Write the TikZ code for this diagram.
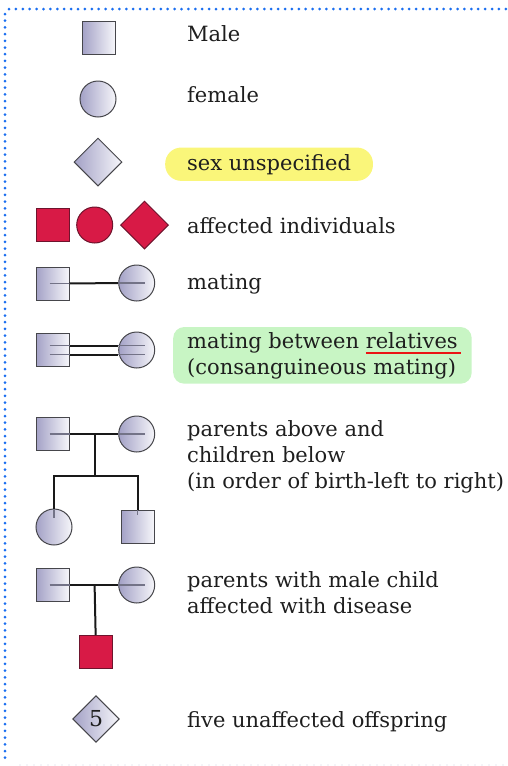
\documentclass[tikz,border=0pt]{standalone}
\usepackage{fontspec}
\setmainfont{DejaVu Serif}
\usepackage{xcolor}
\usetikzlibrary{shapes.geometric, positioning, calc}

\definecolor{lav}{RGB}{163,161,198}
\definecolor{lavlight}{RGB}{246,246,250}
\definecolor{affred}{RGB}{216,26,70}
\definecolor{affedge}{RGB}{110,20,45}
\definecolor{edgegray}{RGB}{70,70,75}
\definecolor{innergray}{RGB}{115,115,135}
\definecolor{dotblue}{RGB}{26,110,240}
\definecolor{hlyellow}{RGB}{250,246,122}
\definecolor{hlgreen}{RGB}{200,245,196}
\definecolor{ulred}{RGB}{235,20,20}
\definecolor{ink}{RGB}{30,30,30}

% red rule under a word
\newcommand\relul[1]{\setbox0\hbox{#1}\rlap{\color{ulred}\rule[-6pt]{\dimexpr\wd0+3pt\relax}{1.8pt}}#1}

\begin{document}
\begin{tikzpicture}[x=1pt, y=-1pt,
  male/.style={rectangle, draw=edgegray, line width=1pt, left color=lav, right color=lavlight, minimum size=33pt, inner sep=0pt},
  female/.style={circle, draw=edgegray, line width=1pt, left color=lav, right color=lavlight, minimum size=36pt, inner sep=0pt},
  unsp/.style={diamond, draw=edgegray, line width=1pt, left color=lav, right color=lavlight, minimum width=48pt, minimum height=48pt, inner sep=0pt},
  affm/.style={rectangle, draw=affedge, line width=1pt, fill=affred, minimum size=33pt, inner sep=0pt},
  afff/.style={circle, draw=affedge, line width=1pt, fill=affred, minimum size=36pt, inner sep=0pt},
  affu/.style={diamond, draw=affedge, line width=1pt, fill=affred, minimum width=48pt, minimum height=48pt, inner sep=0pt},
  link/.style={draw=black!90, line width=2pt},
  inner/.style={draw=innergray, line width=1.3pt},
  txt/.style={anchor=base west, inner sep=0pt, text=ink, align=left, font=\fontsize{21}{26}\selectfont}
]
  \useasboundingbox (0,0) rectangle (508,766);

  % dotted frame
  \draw[dotblue, line width=3pt, line cap=round, dash pattern=on 0pt off 6.9pt] (9,9) -- (508,9);
  \draw[dotblue, line width=3pt, line cap=round, dash pattern=on 0pt off 6.7pt] (5,14) -- (5,763);
  \draw[lav!50, line width=1.2pt, line cap=round, dash pattern=on 0pt off 7pt] (20,765) -- (508,765);

  % single symbols
  \node[male]   (male)  at (98.5,37.5) {};
  \node[female] (fem)   at (98,99)     {};
  \node[unsp]   (unsp)  at (98,162)    {};

  \node[affm] (affM) at (52.5,225) {};
  \node[afff] (affF) at (94.7,225) {};
  \node[affu] (affU) at (144.5,225) {};

  % mating
  \node[male]   (matM) at (52.5,283.5) {};
  \node[female] (matF) at (136.7,283)  {};
  \draw[inner] ([xshift=-3pt]matM.center) -- (matM.east);
  \draw[inner] (matF.west) -- ([xshift=8pt]matF.center);
  \draw[link] (matM) -- (matF);

  % consanguineous mating
  \node[male]   (conM) at (52.5,350) {};
  \node[female] (conF) at (136.7,350) {};
  \foreach \dy in {-4.5,4.5} {
    \draw[inner] ([xshift=-3pt,yshift=\dy pt]conM.center) -- ([yshift=\dy pt]conM.east);
    \draw[inner] ([yshift=\dy pt]conF.west) -- ([xshift=8pt,yshift=\dy pt]conF.center);
    \draw[link] ([yshift=\dy pt]conM.east) -- ([yshift=\dy pt]conM.east -| conF.west);
  }

  % parents and children
  \node[male]   (parM) at (52.5,434)   {};
  \node[female] (parF) at (136.7,434)  {};
  \node[female] (kidF) at (54,527)     {};
  \node[male]   (kidM) at (137.5,526.5) {};
  \coordinate (parJ) at ($(parM)!0.5!(parF)$);
  \coordinate (kidJ) at ($(parJ)+(0,42)$);
  \draw[inner] ([xshift=-3pt]parM.center) -- (parM.east);
  \draw[inner] (parF.west) -- ([xshift=8pt]parF.center);
  \draw[inner] (kidF.north) -- ++(0,9);
  \draw[inner] (kidM.north) -- ++(0,5);
  \draw[link] (parM) -- (parF);
  \draw[link] (parJ) -- (kidJ);
  \draw[link] (kidF.north) |- (kidJ) -| (kidM.north);

  % parents with affected son
  \node[male]   (sonM) at (52.5,585)  {};
  \node[female] (sonF) at (136.7,585) {};
  \node[affm]   (son)  at (96,652)    {};
  \coordinate (sonJ) at ($(sonM)!0.5!(sonF)$);
  \draw[inner] ([xshift=-3pt]sonM.center) -- (sonM.east);
  \draw[inner] (sonF.west) -- ([xshift=8pt]sonF.center);
  \draw[link] (sonM) -- (sonF);
  \draw[link] (sonJ) -- (son);

  % five offspring
  \node[unsp, minimum width=46.6pt, minimum height=46.6pt, font=\fontsize{22}{24}\selectfont, text=ink] (five) at (96,719) {5};

  % texts (multi-line nodes sit on their last line)
  \node[txt] (tMale) at (187,41)  {Male};
  \node[txt] (tFem)  at (187,102) {female};
  \node[txt, fill=hlyellow, rounded corners=16pt, inner xsep=22pt, inner ysep=6.5pt] (tUnsp) at (165,170) {sex unspecified};
  \node[txt] (tAff)  at (187,233) {affected individuals};
  \node[txt] (tMat)  at (187,289) {mating};
  \node[txt, fill=hlgreen, rounded corners=11pt, inner xsep=14pt, inner ysep=5pt] (tCon) at (173,374)
    {mating between \relul{relatives}\\(consanguineous mating)};
  \node[txt] (tPar)  at (187,488) {parents above and\\children below\\(in order of birth-left to right)};
  \node[txt] (tSon)  at (187,613) {parents with male child\\affected with disease};
  \node[txt] (tFive) at (187,727) {five unaffected offspring};
\end{tikzpicture}
\end{document}
